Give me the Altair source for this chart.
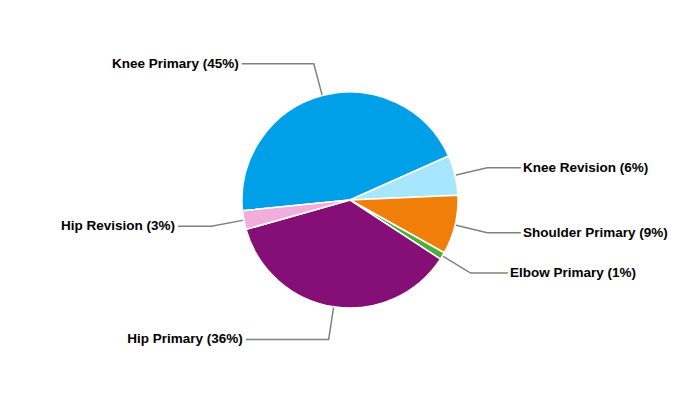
import math
import pandas as pd
import altair as alt

# ---- data ----
categories = ["Knee Primary", "Knee Revision", "Shoulder Primary",
              "Elbow Primary", "Hip Primary", "Hip Revision"]
values = [44.9, 6.0, 8.8, 1.1, 36.4, 2.8]
colors = ["#00A0E9", "#A6E7FD", "#F07F0A", "#4CAF3C", "#860F77", "#F1ADDC"]

# ---- layout ----
W, H = 684, 384
CX, CY = W / 2, H / 2
R = 108
START_DEG = 264.3
ELBOW_R = R + 33
LABEL_R = 174

total = sum(values)
pie_df = pd.DataFrame({"cat": categories, "value": values, "idx": range(len(values))})

line_rows, text_rows = [], []
cum = 0.0
for i, (c, v) in enumerate(zip(categories, values)):
    span = v / total * 360
    mid = math.radians(START_DEG + cum + span / 2)
    cum += span
    sx, sy = math.sin(mid), -math.cos(mid)
    ex, ey = CX + R * sx, CY + R * sy
    bx, by = CX + ELBOW_R * sx, CY + ELBOW_R * sy
    ly = by
    dy = ly - CY
    dx = math.sqrt(max(LABEL_R ** 2 - dy ** 2, 0))
    side = "right" if sx > 0 else "left"
    lx = CX + dx if side == "right" else CX - dx
    for step, (px, py) in enumerate([(ex, ey), (bx, by), (lx, ly)]):
        line_rows.append({"cat": c, "step": step, "x": px, "y": py})
    pct = round(v / total * 100)
    text_rows.append({"label": f"{c} ({pct}%)", "side": side,
                      "x": lx + 2 if side == "right" else lx - 3, "y": ly})

line_df = pd.DataFrame(line_rows)
text_df = pd.DataFrame(text_rows)

xs = alt.Scale(domain=[0, W], range=[0, W], nice=False, zero=False)
ys = alt.Scale(domain=[0, H], range=[0, H], nice=False, zero=False)

pie = alt.Chart(pie_df).mark_arc(radius=R, stroke="white", strokeWidth=1.5).encode(
    theta=alt.Theta("value:Q", stack=True,
                    scale=alt.Scale(range=[math.radians(START_DEG),
                                           math.radians(START_DEG) + 2 * math.pi])),
    color=alt.Color("cat:N", scale=alt.Scale(domain=categories, range=colors), legend=None),
    order=alt.Order("idx:Q"),
)

lines = alt.Chart(line_df).mark_line(color="#808080", strokeWidth=1.5).encode(
    x=alt.X("x:Q", scale=xs, axis=None),
    y=alt.Y("y:Q", scale=ys, axis=None),
    detail="cat:N",
    order=alt.Order("step:Q"),
)

text_common = dict(font="Liberation Sans", fontSize=13.5, fontWeight="bold",
                   color="#000000", baseline="middle")
text_right = alt.Chart(text_df).transform_filter(alt.datum.side == "right").mark_text(
    align="left", **text_common).encode(
    x=alt.X("x:Q", scale=xs, axis=None), y=alt.Y("y:Q", scale=ys, axis=None), text="label:N")
text_left = alt.Chart(text_df).transform_filter(alt.datum.side == "left").mark_text(
    align="right", **text_common).encode(
    x=alt.X("x:Q", scale=xs, axis=None), y=alt.Y("y:Q", scale=ys, axis=None), text="label:N")

chart = alt.layer(lines, pie, text_right, text_left).properties(
    width=W, height=H, padding=0, autosize=alt.AutoSizeParams(type="none"),
    background="white",
).configure_view(stroke=None)

chart.save("out.html", embed_options={"renderer": "svg", "actions": False})
